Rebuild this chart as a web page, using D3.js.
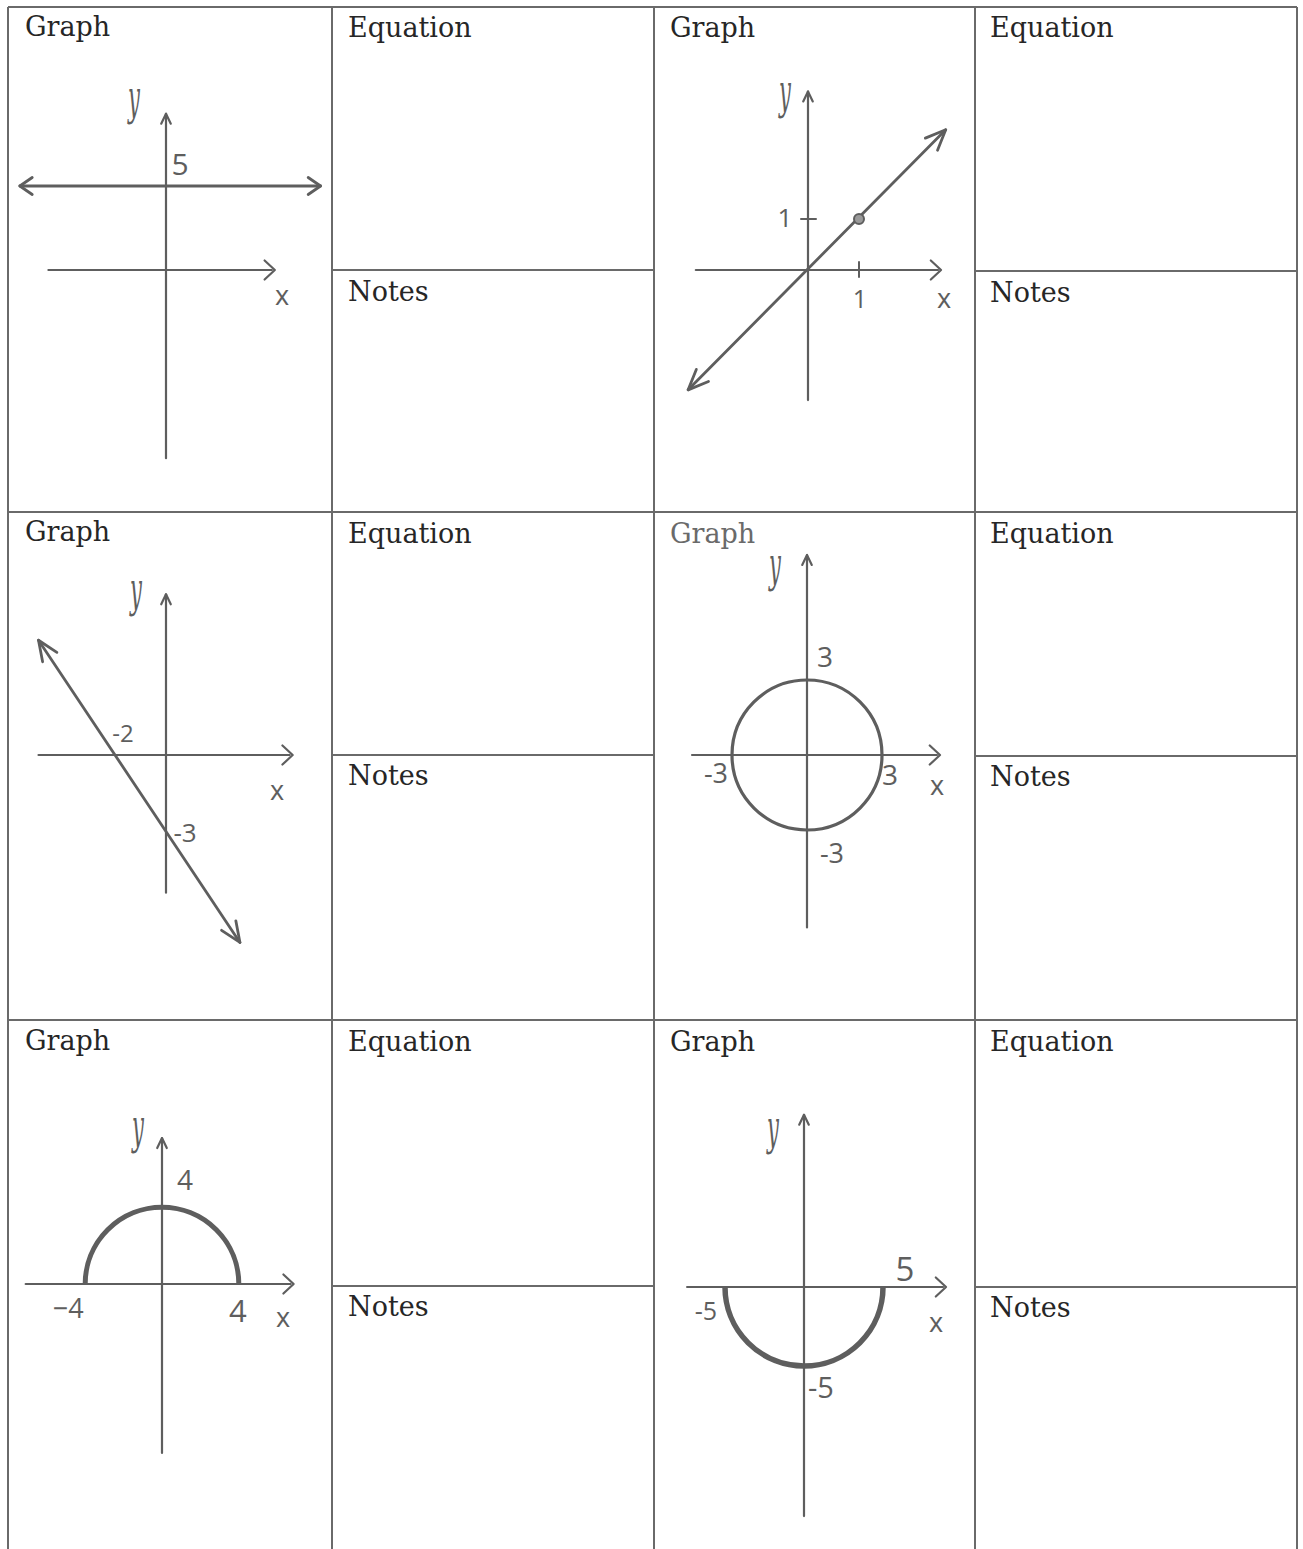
<!DOCTYPE html>
<html><head><meta charset="utf-8">
<script src="https://cdn.jsdelivr.net/npm/d3@7"></script>
<style>body{margin:0;background:#fff}</style></head>
<body><svg id="c" width="1303" height="1549"></svg>
<script>
// ---------------- data ----------------
const headerLabels = ["Graph", "Equation", "Notes"];
// panel 1 : horizontal line y = 5
const horizontalLineY = 5;
const horizontalLineXs = [-8.7, 9.2];
const horizontalLabels = [{t: "5", x: 0, y: 5}];
// panel 2 : line y = x through (1,1)
const identityLineXs = [-2.35, 2.7];
const identityLineYs = [-2.35, 2.75];
const identityPoint = [1, 1];
const identityTicks = [1];
// panel 3 : line through (-2,0) and (0,-3)
const slopeLineXs = [-5.0, 2.9];
const slopeLineYs = [4.5, -7.35];
const slopeLabels = [{t: "-2", x: -2, y: 0}, {t: "-3", x: 0, y: -3}];
// panel 4 : circle radius 3
const circleRadius = 3;
const circleLabels = [{t: "3", x: 0, y: 3}, {t: "-3", x: -3, y: 0}, {t: "3", x: 3, y: 0}, {t: "-3", x: 0, y: -3}];
// panel 5 : upper semicircle radius 4
const upperRadius = 4;
const upperLabels = [{t: "4", x: 0, y: 4}, {t: "−4", x: -4, y: 0}, {t: "4", x: 4, y: 0}];
// panel 6 : lower semicircle radius 5
const lowerRadius = 5;
const lowerLabels = [{t: "5", x: 5, y: 0}, {t: "-5", x: -5, y: 0}, {t: "-5", x: 0, y: -5}];

// ---------------- layout ----------------
const svg = d3.select("#c");
const gridColor = "#6a6a6a";
const ink = "#5e5e5e";
const colX = [8, 332, 654, 975, 1297];
const rowY = [7, 512, 1020, 1549];
const notesY = [270, 755, 1286];

const grid = svg.append("g").attr("stroke", gridColor).attr("stroke-width", 2);
colX.forEach(x => grid.append("line").attr("x1", x).attr("x2", x).attr("y1", 7).attr("y2", 1549));
rowY.slice(0, 3).forEach(y => grid.append("line").attr("x1", 8).attr("x2", 1297).attr("y1", y).attr("y2", y));
notesY.forEach(y => {
  grid.append("line").attr("x1", 332).attr("x2", 654).attr("y1", y).attr("y2", y);
  grid.append("line").attr("x1", 975).attr("x2", 1297).attr("y1", y + 1).attr("y2", y + 1);
});

const headerFont = "'DejaVu Serif', serif";
function header(x, y, t, col) {
  svg.append("text").attr("x", x).attr("y", y).text(t)
    .attr("font-family", headerFont).attr("font-size", 27).attr("fill", col || "#262626");
}
const headerRows = [
  {g: 36, e: 37, n: 301},
  {g: 541, e: 543, n: 785},
  {g: 1050, e: 1051, n: 1316}
];
headerRows.forEach((r, i) => {
  header(25, r.g, headerLabels[0]);
  header(348, r.e, headerLabels[1]);
  header(348, r.n, headerLabels[2]);
  header(670, r.e, headerLabels[0], i === 1 ? "#6a6a6a" : "#262626");
  header(990, r.e, headerLabels[1]);
  header(990, r.n + 1, headerLabels[2]);
});

// ---------------- helpers ----------------
function makeScales(ox, oy, k) {
  return {
    x: d3.scaleLinear().domain([0, 1]).range([ox, ox + k]),
    y: d3.scaleLinear().domain([0, 1]).range([oy, oy - k])
  };
}
function arrowHead(g, x, y, ang, s, spread, w) {
  const a1 = ang + Math.PI - spread, a2 = ang + Math.PI + spread;
  g.append("path")
    .attr("d", d3.line()([[x + s * Math.cos(a1), y + s * Math.sin(a1)], [x, y], [x + s * Math.cos(a2), y + s * Math.sin(a2)]]))
    .attr("fill", "none").attr("stroke", ink).attr("stroke-width", w || 2.5)
    .attr("stroke-linecap", "round").attr("stroke-linejoin", "round");
}
function seg(g, p1, p2, w) {
  g.append("line").attr("x1", p1[0]).attr("y1", p1[1]).attr("x2", p2[0]).attr("y2", p2[1])
    .attr("stroke", ink).attr("stroke-width", w || 2.5).attr("stroke-linecap", "round");
}
function axes(g, s, xr, yr) {
  const xa = [s.x(xr[0]), s.y(0)], xb = [s.x(xr[1]), s.y(0)];
  const ya = [s.x(0), s.y(yr[0])], yb = [s.x(0), s.y(yr[1])];
  seg(g, xa, xb, 2.2);
  seg(g, ya, yb, 2.2);
  arrowHead(g, xb[0] + 3, xb[1], 0, 14, 0.75, 2.2);
  arrowHead(g, yb[0], yb[1], -Math.PI / 2, 11, 0.45, 2.2);
}
const handFont = "'Open Sans', 'DejaVu Sans', sans-serif";
function hand(g, x, y, t, size, anchor) {
  g.append("text").attr("x", x).attr("y", y).text(t)
    .attr("font-family", handFont).attr("font-size", size || 24)
    .attr("fill", ink).attr("text-anchor", anchor || "middle");
}
// label placed at data point (through scales) plus a pixel offset
function label(g, s, d, off) {
  hand(g, s.x(d.x) + off[0], s.y(d.y) + off[1], d.t, off[2]);
}
function axisNames(g, yPos, xPos) {
  g.append("text").attr("transform", `translate(${yPos[0]},${yPos[1]}) scale(0.75,1.7)`).text("y")
    .attr("font-family", "'DejaVu Serif', serif").attr("font-style", "italic")
    .attr("font-size", 28).attr("fill", ink).attr("text-anchor", "middle");
  hand(g, xPos[0], xPos[1], "x", 27);
}

// ---------------- panel 1 ----------------
{
  const g = svg.append("g");
  const s = makeScales(166, 270, 16.8);
  axes(g, s, [-7.0, 6.3], [-11.2, 9.3]);
  const a = [s.x(horizontalLineXs[0]), s.y(horizontalLineY)], b = [s.x(horizontalLineXs[1]), s.y(horizontalLineY)];
  seg(g, a, b, 2.8);
  arrowHead(g, b[0], b[1], 0, 15, 0.6, 2.8);
  arrowHead(g, a[0], a[1], Math.PI, 15, 0.6, 2.8);
  label(g, s, horizontalLabels[0], [14, -11, 30]);
  axisNames(g, [134, 114], [282, 305]);
}
// ---------------- panel 2 ----------------
{
  const g = svg.append("g");
  const s = makeScales(808, 270, 51);
  axes(g, s, [-2.2, 2.55], [-2.55, 3.5]);
  const a = [s.x(identityLineXs[0]), s.y(identityLineYs[0])], b = [s.x(identityLineXs[1]), s.y(identityLineYs[1])];
  seg(g, a, b, 2.8);
  const ang = Math.atan2(b[1] - a[1], b[0] - a[0]);
  arrowHead(g, b[0], b[1], ang, 22, 0.4, 2.8);
  arrowHead(g, a[0], a[1], ang + Math.PI, 22, 0.4, 2.8);
  identityTicks.forEach(t => {
    seg(g, [s.x(t), s.y(0) - 8], [s.x(t), s.y(0) + 7], 2);
    label(g, s, {t: String(t), x: t, y: 0}, [1, 38, 25]);
    seg(g, [s.x(0) - 7, s.y(t)], [s.x(0) + 8, s.y(t)], 2);
    label(g, s, {t: String(t), x: 0, y: t}, [-23, 8, 26]);
  });
  g.append("circle").attr("cx", s.x(identityPoint[0])).attr("cy", s.y(identityPoint[1])).attr("r", 5)
    .attr("fill", "#9a9a9a").attr("stroke", ink).attr("stroke-width", 2);
  axisNames(g, [785, 108], [944, 308]);
}
// ---------------- panel 3 ----------------
{
  const g = svg.append("g");
  const s = makeScales(166, 755, 25.5);
  axes(g, s, [-5.0, 4.85], [-5.4, 6.3]);
  const a = [s.x(slopeLineXs[0]), s.y(slopeLineYs[0])], b = [s.x(slopeLineXs[1]), s.y(slopeLineYs[1])];
  seg(g, a, b, 2.8);
  const ang = Math.atan2(b[1] - a[1], b[0] - a[0]);
  arrowHead(g, b[0], b[1], ang, 22, 0.4, 2.8);
  arrowHead(g, a[0], a[1], ang + Math.PI, 22, 0.4, 2.8);
  label(g, s, slopeLabels[0], [8, -13, 24]);
  label(g, s, slopeLabels[1], [19, 10, 26]);
  axisNames(g, [136, 606], [277, 800]);
}
// ---------------- panel 4 ----------------
{
  const g = svg.append("g");
  const s = makeScales(807, 755, 25);
  axes(g, s, [-4.6, 5.2], [-6.9, 8.0]);
  g.append("ellipse").attr("cx", s.x(0)).attr("cy", s.y(0))
    .attr("rx", s.x(circleRadius) - s.x(0)).attr("ry", s.y(0) - s.y(circleRadius))
    .attr("fill", "none").attr("stroke", ink).attr("stroke-width", 3.2);
  const off = [[18, -13, 28], [-16, 28, 27], [8, 30, 28], [25, 33, 27]];
  circleLabels.forEach((d, i) => label(g, s, d, off[i]));
  axisNames(g, [775, 581], [937, 795]);
}
// ---------------- panel 5 ----------------
{
  const g = svg.append("g");
  const s = makeScales(162, 1284, 19.2);
  axes(g, s, [-7.1, 6.7], [-8.8, 7.6]);
  const r = s.x(upperRadius) - s.x(0);
  const p = d3.path();
  p.moveTo(s.x(-upperRadius), s.y(0));
  p.arc(s.x(0), s.y(0), r, Math.PI, 2 * Math.PI);
  g.append("path").attr("d", p.toString()).attr("fill", "none").attr("stroke", ink).attr("stroke-width", 5);
  const off = [[23, -17, 28], [-17, 34, 27], [-1, 38, 31]];
  upperLabels.forEach((d, i) => label(g, s, d, off[i]));
  axisNames(g, [138, 1143], [283, 1327]);
}
// ---------------- panel 6 ----------------
{
  const g = svg.append("g");
  const s = makeScales(804, 1287, 15.8);
  axes(g, s, [-7.4, 8.8], [-14.5, 10.9]);
  const r = s.x(lowerRadius) - s.x(0);
  const p = d3.path();
  p.moveTo(s.x(-lowerRadius), s.y(0));
  p.arc(s.x(0), s.y(0), r, Math.PI, 0, true);
  g.append("path").attr("d", p.toString()).attr("fill", "none").attr("stroke", ink).attr("stroke-width", 5.5);
  const off = [[22, -6, 33], [-19, 33, 25], [17, 32, 29]];
  lowerLabels.forEach((d, i) => label(g, s, d, off[i]));
  axisNames(g, [773, 1144], [936, 1332]);
}
</script>
</body></html>
